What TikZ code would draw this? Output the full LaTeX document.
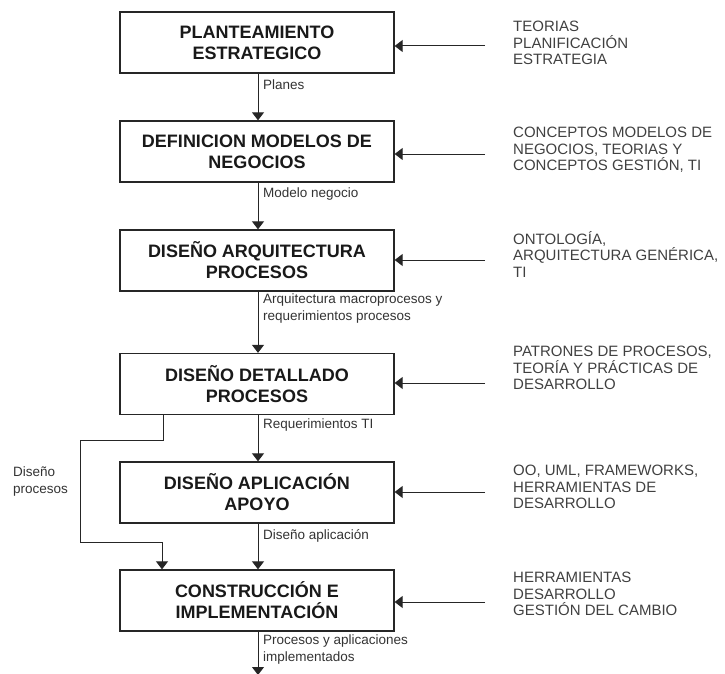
\documentclass[tikz,border=0pt]{standalone}
\usepackage{fontspec}
\setmainfont{Liberation Sans}
\usetikzlibrary{arrows.meta}

\begin{document}
\begin{tikzpicture}[x=1pt,y=-1pt,
  stage/.style={draw=black!85, line width=1.3pt, fill=white,
    minimum width=274pt, minimum height=61pt, inner sep=0pt,
    align=center, text=black!90,
    font=\bfseries\fontsize{18}{21}\selectfont},
  flow/.style={draw=black!85, line width=1pt,
    -{Triangle[width=12pt,length=8pt]}},
  edgelabel/.style={anchor=west, inner sep=0pt, align=left, text=black!80,
    font=\fontsize{13.5}{17}\selectfont},
  source/.style={anchor=west, inner sep=0pt, align=left, text=black!75,
    font=\fontsize{15}{16.5}\selectfont}
]
\useasboundingbox (0,0) rectangle (725,674);

% main stages
\node[stage] (s1) at (257,42.5) {PLANTEAMIENTO\\ESTRATEGICO};
\node[stage] (s2) at (257,151.5) {DEFINICION MODELOS DE\\NEGOCIOS};
\node[stage] (s3) at (257,260.5) {DISEÑO ARQUITECTURA\\PROCESOS};
\node[stage] (s4) at (257,384) {DISEÑO DETALLADO\\PROCESOS};
\node[stage] (s5) at (257,492.5) {DISEÑO APLICACIÓN\\APOYO};
\node[stage] (s6) at (257,600.5) {CONSTRUCCIÓN E\\IMPLEMENTACIÓN};

% vertical flow between stages
\draw[flow] (s1.south -| 258,0) -- (s2.north -| 258,0);
\draw[flow] (s2.south -| 258,0) -- (s3.north -| 258,0);
\draw[flow] (s3.south -| 258,0) -- (s4.north -| 258,0);
\draw[flow] (s4.south -| 258,0) -- (s5.north -| 258,0);
\draw[flow] (s5.south -| 258,0) -- (s6.north -| 258,0);
\coordinate (out) at (258,675);
\draw[flow] (s6.south -| 258,0) -- (out);

% flow labels
\node[edgelabel] (l1) at (263,85) {Planes};
\node[edgelabel] (l2) at (263,194) {Modelo negocio};
\node[edgelabel] (l3) at (263,308.5) {Arquitectura macroprocesos y\\requerimientos procesos};
\node[edgelabel] (l4) at (263,425) {Requerimientos TI};
\node[edgelabel] (l5) at (263,536) {Diseño aplicación};
\node[edgelabel] (l6) at (263,650) {Procesos y aplicaciones\\implementados};

% bypass from detailed design to construction
\coordinate (b1) at (163,440);
\coordinate (b2) at (80,440);
\coordinate (b3) at (80,542);
\coordinate (b4) at (162,542);
\draw[flow] (s4.south -| b1) -- (b1) -- (b2) -- (b3) -- (b4) -- (s6.north -| b4);
\node[edgelabel] (lb) at (13,482) {Diseño\\procesos};

% external inputs on the right
\foreach \n/\y in {1/46,2/154,3/260,4/383,5/492,6/602}{
  \coordinate (in\n) at (485,\y);
  \draw[flow] (in\n) -- (s\n.east |- in\n);
}
\node[source] (t1) at (513,43) {TEORIAS\\PLANIFICACIÓN\\ESTRATEGIA};
\node[source] (t2) at (513,150) {CONCEPTOS MODELOS DE\\NEGOCIOS, TEORIAS Y\\CONCEPTOS GESTIÓN, TI};
\node[source] (t3) at (513,254) {ONTOLOGÍA,\\ARQUITECTURA GENÉRICA,\\TI};
\node[source] (t4) at (513,368) {PATRONES DE PROCESOS,\\TEORÍA Y PRÁCTICAS DE\\DESARROLLO};
\node[source] (t5) at (513,487) {OO, UML, FRAMEWORKS,\\HERRAMIENTAS DE\\DESARROLLO};
\node[source] (t6) at (513,594) {HERRAMIENTAS\\DESARROLLO\\GESTIÓN DEL CAMBIO};
\end{tikzpicture}
\end{document}
